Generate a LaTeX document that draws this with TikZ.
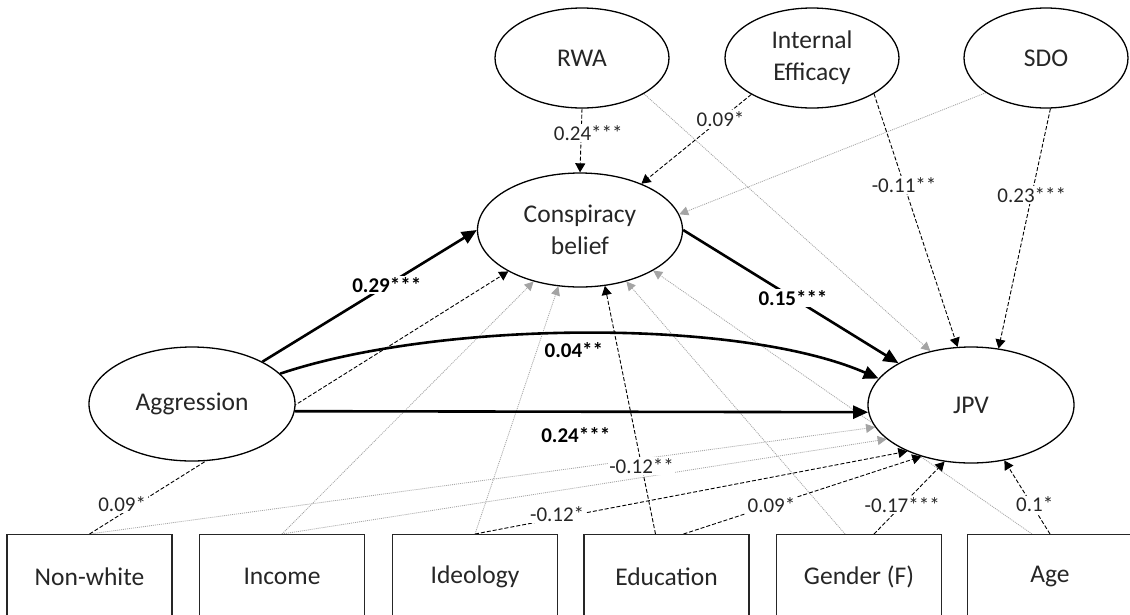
\documentclass[tikz,border=0pt]{standalone}
\usepackage{fontspec}
\setmainfont{Carlito}
\usetikzlibrary{arrows.meta,shapes.geometric}
\pgfdeclarelayer{bg}
\pgfsetlayers{bg,main}
\newcommand\mynodefont{\fontsize{25.5}{32}\selectfont}
\newcommand\mylblfont{\fontsize{21}{24}\selectfont}
\definecolor{dotgray}{HTML}{A4A4A4}
\begin{document}
\begin{tikzpicture}[x=1pt,y=-1pt,
  ell/.style={ellipse, draw=black, line width=1.3pt, fill=white, inner sep=0pt,
    font=\mynodefont, text=black!85, align=center},
  var/.style={rectangle, draw=black!85, line width=1.3pt, fill=white, anchor=north,
    minimum width=165pt, minimum height=84pt, font=\mynodefont, text=black!85},
  lbl/.style={fill=white, inner sep=1.5pt, font=\mylblfont, text=black!85},
  blbl/.style={fill=white, inner sep=1.5pt, font=\mylblfont\bfseries, text=black},
  grayedge/.style={draw=dotgray, line width=0.8pt, dash pattern=on 1pt off 1pt,
    -{Triangle[length=9pt,width=9pt,fill=dotgray]}},
  dashedge/.style={draw=black, line width=0.9pt, dash pattern=on 4pt off 2pt,
    -{Triangle[length=9pt,width=10pt]}},
  thickedge/.style={draw=black, line width=2.6pt, -{Triangle[length=15pt,width=13pt]}}
]
\useasboundingbox (0,0) rectangle (1130,614);

% ellipses
\node[ell, minimum width=174pt, minimum height=100pt] (rwa) at (582,58) {RWA};
\node[ell, minimum width=174pt, minimum height=100pt] (ie) at (812,58) {Internal\\Efficacy};
\node[ell, minimum width=164pt, minimum height=100pt] (sdo) at (1046,58) {SDO};
\node[ell, minimum width=205pt, minimum height=114pt] (consp) at (580,230) {Conspiracy\\belief};
\node[ell, minimum width=206pt, minimum height=114pt] (agg) at (192,404) {Aggression};
\node[ell, minimum width=206pt, minimum height=116pt] (jpv) at (971,405) {JPV};

% boxes
\node[var] (nonwhite) at (89.5,534) {Non-white};
\node[var] (income) at (282,534) {Income};
\node[var] (ideology) at (475,534) {Ideology};
\node[var] (edu) at (666.5,534) {Education};
\node[var] (gender) at (859,534) {Gender (F)};
\node[var] (age) at (1050,534) {Age};

\begin{pgfonlayer}{bg}
\fill[white] (0,0) rectangle (1130,614);
% non-significant paths
\draw[grayedge] (rwa.330) -- (jpv.127);
\draw[grayedge] (sdo.210) -- (consp.9);
\draw[grayedge] (nonwhite.north) -- (jpv.193);
\draw[grayedge] (income.north) -- (jpv.202);
\draw[grayedge] (income.north) -- (consp.228);
\draw[grayedge] (ideology.north) -- (consp.249);
\draw[grayedge] ([xshift=-14pt]gender.north) -- (consp.312);
\draw[grayedge] ([xshift=-18pt]age.north) -- (consp.331);
% significant covariate paths
\draw[dashedge] (rwa.270) -- node[lbl,pos=0.38,xshift=7pt]{0.24***} (consp.90);
\draw[dashedge] (ie.211) -- node[lbl,pos=0.28]{0.09*} (consp.37);
\draw[dashedge] (ie.330) -- node[lbl,pos=0.36]{-0.11**} (jpv.103);
\draw[dashedge] (sdo.275) -- node[lbl,pos=0.36]{0.23***} (jpv.64);
\draw[dashedge] (nonwhite.north) -- node[lbl,pos=0.09,xshift=-5pt,yshift=6pt]{0.09*} (consp.210);
\draw[dashedge] ([xshift=-11pt]edu.north) -- node[lbl,pos=0.275]{-0.12**} (consp.294);
\draw[dashedge] (ideology.north) -- node[lbl,pos=0.19,yshift=4pt]{-0.12*} (jpv.216);
\draw[dashedge] ([xshift=17pt]edu.north) -- node[lbl,pos=0.37]{0.09*} (jpv.226);
\draw[dashedge] ([xshift=15pt]gender.north) -- node[lbl,pos=0.4]{-0.17***} (jpv.245);
\draw[dashedge] (age.north) -- node[lbl,pos=0.4,xshift=3pt]{0.1*} (jpv.301);
% main paths
\draw[thickedge] (agg.31) -- node[blbl,pos=0.58]{0.29***} (consp.180);
\draw[thickedge] (agg.19) .. controls (440,320) and (740,318) ..
  node[blbl,fill=none,pos=0.48,below=6pt]{0.04**} (jpv.164);
\draw[thickedge] (agg.356) -- node[blbl,fill=none,pos=0.49,below=13pt]{0.24***} (jpv.184);
\draw[thickedge] (consp.0) -- node[blbl,pos=0.51]{0.15***} (jpv.150);
\end{pgfonlayer}
\end{tikzpicture}
\end{document}
